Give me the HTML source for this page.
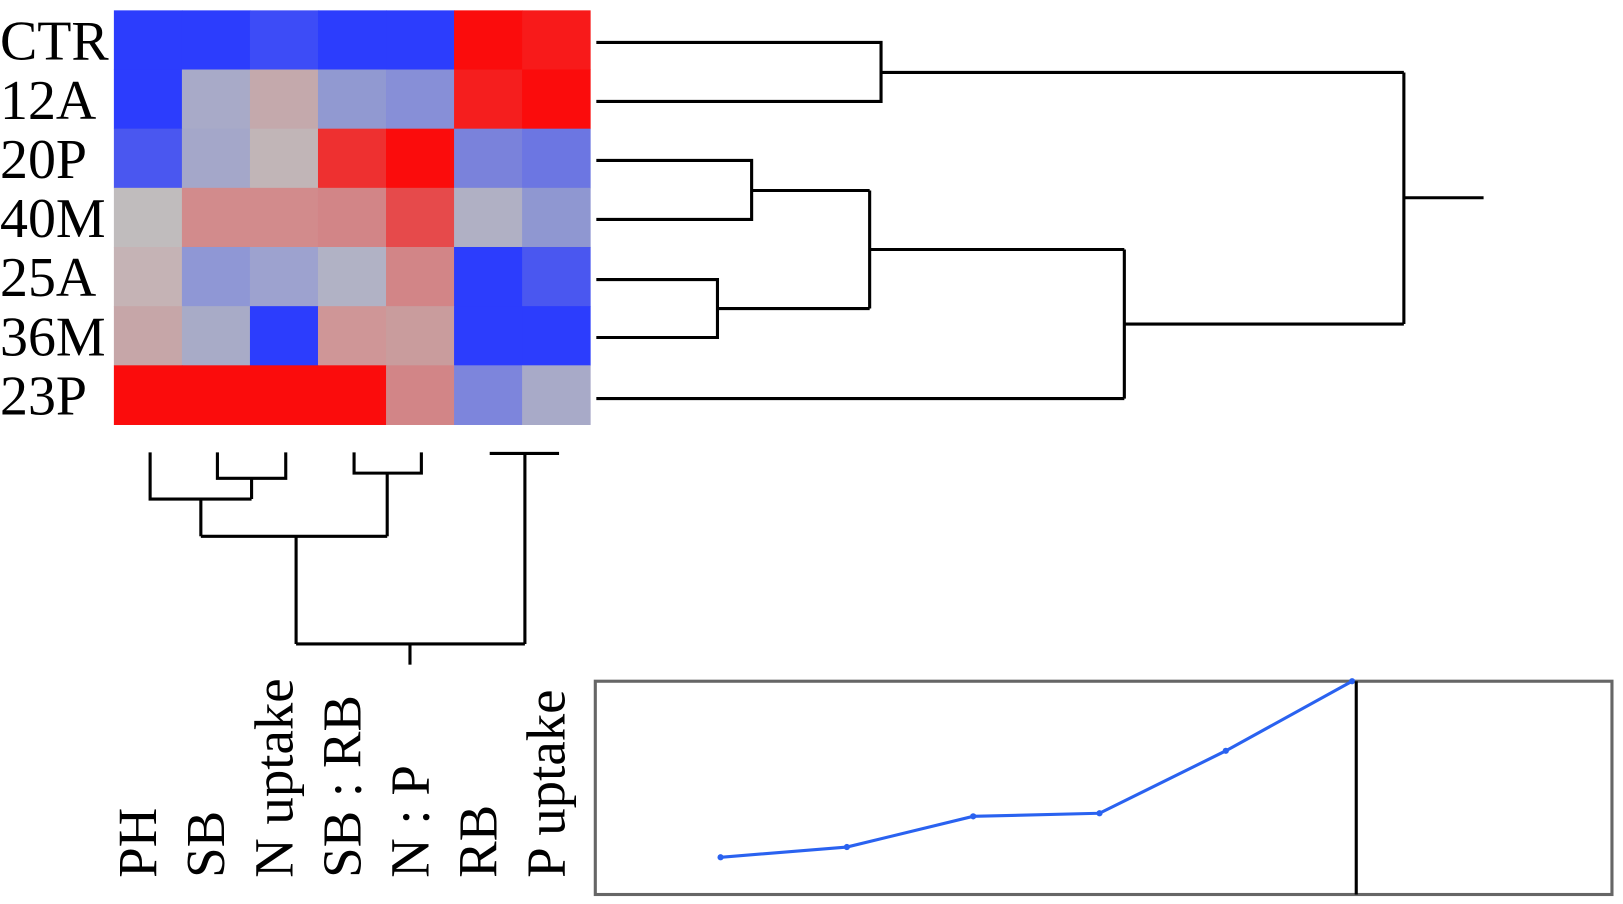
<!DOCTYPE html>
<html><head><meta charset="utf-8"><style>
html,body{margin:0;padding:0;background:#fff;}
svg{display:block;}
text{font-family:"Liberation Serif",serif;fill:#000;}
</style></head><body>
<svg id="chart" width="1623" height="904" viewBox="0 0 1623 904" xmlns="http://www.w3.org/2000/svg">
<g transform="scale(1.0353)">
<g id="heat"></g>
<g id="rowlabels"></g>
<g id="collabels"></g>
<g id="rowdend" stroke="#000" stroke-width="3" fill="none"></g>
<g id="coldend" stroke="#000" stroke-width="3" fill="none"></g>
<g id="line"></g>
</g>
</svg>
<script>
const rows = ["CTR","12A","20P","40M","25A","36M","23P"];
const cols = ["PH","SB","N uptake","SB : RB","N : P","RB","P uptake"];
const cellColors = [
 ["#2c3dfd","#2c3dfd","#3d4cf7","#2c3dfd","#2c3dfd","#fb0c0c","#f81a1a"],
 ["#2c3dfd","#a8aac8","#c4a9ac","#9199d1","#878fd7","#f51e1e","#fb0c0c"],
 ["#4a57f0","#a4a7c9","#c1b5b7","#ee3030","#fb0c0c","#7a82db","#6c76e2"],
 ["#c0bcbd","#d28b8c","#d28b8c","#d28587","#e64a4b","#b0b0c4","#8f97d1"],
 ["#c5b3b5","#8f97d5","#9da2cf","#b1b2c5","#d28587","#2c3dfd","#4a57f0"],
 ["#c6a6a8","#a8abc7","#2c3dfd","#cf9697","#c99c9d","#2c3dfd","#2c3dfd"],
 ["#fb0c0c","#fb0c0c","#fb0c0c","#fb0c0c","#d28587","#7d85dc","#a8aac8"]
];
const lineValues = [0.2, 0.7, 2.2, 2.35, 5.4, 8.8];
const NS="http://www.w3.org/2000/svg";
function mk(tag, attrs, parent){const e=document.createElementNS(NS,tag);for(const k in attrs)e.setAttribute(k,attrs[k]);parent.appendChild(e);return e;}
const hx0=110,hx1=570,hy0=10,hy1=410;
const cw=(hx1-hx0)/cols.length, rh=(hy1-hy0)/rows.length;
const heat=document.getElementById('heat');
rows.forEach((r,i)=>cols.forEach((c,j)=>{
  const el=mk('rect',{x:hx0+j*cw,y:hy0+i*rh,width:cw+0.5,height:rh+0.5,fill:cellColors[i][j]},heat);
  
  
}));
const rl=document.getElementById('rowlabels');
rows.forEach((r,i)=>{
  const t=mk('text',{x:0,y:hy0+i*rh+rh/2+19,'font-size':54},rl);t.textContent=r;
  
  
});
const cl=document.getElementById('collabels');
cols.forEach((c,j)=>{
  const cx=hx0+j*cw+cw/2+8;
  const t=mk('text',{x:0,y:0,'font-size':53,transform:`translate(${cx},848) rotate(-90)`},cl);t.textContent=c;
  
  
});
const rd=document.getElementById('rowdend');
const rowSegs=[
 "M576 41H851V98H576","M851 70H1356",
 "M576 155H726V212H576","M726 184H840",
 "M576 270H693V326H576","M693 298H840","M840 184V298","M840 241H1086",
 "M576 385H1086","M1086 241V385","M1086 313H1356","M1356 70V313","M1356 191H1433"
];
rowSegs.forEach(d=>{const p=mk('path',{d},rd);});
const cd=document.getElementById('coldend');
const colSegs=[
 "M145 437V482H243","M210 437V462H276V437","M243 462V482","M194 482V518",
 "M342 437V457H407V437","M374 457V518","M194 518H374","M286 518V622",
 "M473 438H540","M507 438V622","M286 622H507","M396 622V642"
];
colSegs.forEach(d=>{const p=mk('path',{d},cd);});
const lp=document.getElementById('line');
const bx0=575,bx1=1557,by0=658,by1=864;
const box=mk('rect',{x:bx0,y:by0,width:bx1-bx0,height:by1-by0,fill:'none',stroke:'#666',"stroke-width":3},lp);

const vmin=0,vmax=8.8;
const xs=i=>696+i*122;
const ys=v=>832-(v-vmin)/(vmax-vmin)*(832-658);
const pts=lineValues.map((v,i)=>[xs(i),ys(v)]);
const pl=mk('polyline',{points:pts.map(p=>p.join(',')).join(' '),fill:'none',stroke:'#2a62f0','stroke-width':3},lp);

pts.forEach(p=>{const c=mk('circle',{cx:p[0],cy:p[1],r:3,fill:'#2a62f0'},lp);});
const vl=mk('line',{x1:1310,y1:by0,x2:1310,y2:by1,stroke:'#000','stroke-width':3},lp);

</script>
</body></html>
